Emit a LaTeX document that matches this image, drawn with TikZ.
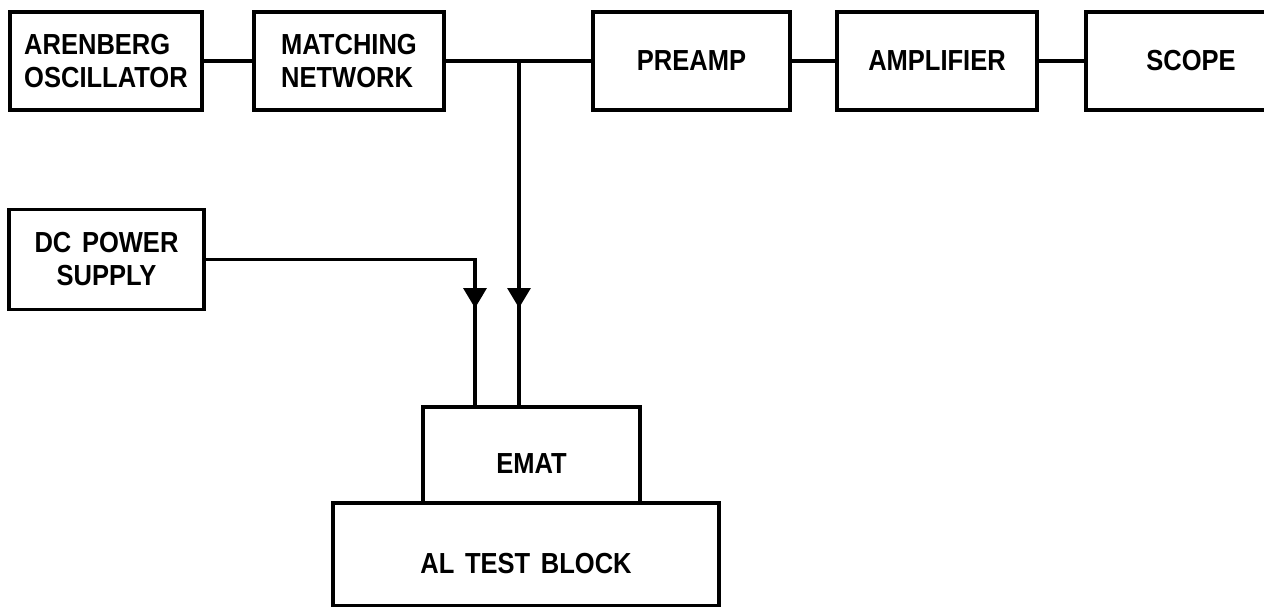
\documentclass[tikz,border=0pt]{standalone}
\usepackage{fontspec}
\newfontfamily\lbl{Liberation Sans Bold}[FakeStretch=0.88,WordSpace=1.5]
\usetikzlibrary{arrows.meta,decorations.markings}
\begin{document}
\begin{tikzpicture}[x=1pt,y=-1pt,
  box/.style={draw,line width=3.2pt,rectangle,inner sep=0pt,
    font=\lbl\fontsize{29}{33}\selectfont,align=left},
  low/.style={text height=37pt,text depth=0pt},
  conn/.style={line width=3.2pt},
  tipat/.style={postaction={decorate},decoration={markings,
    mark=at position #1 with {\arrow{Triangle[width=23pt,length=20pt]}}}}]
\useasboundingbox (0,0) rectangle (1264,607);
\fill[white] (0,0) rectangle (1264,607);
\node[box,minimum width=192pt,minimum height=98pt] (osc) at (106,61) {ARENBERG\\OSCILLATOR};
\node[box,minimum width=190pt,minimum height=98pt] (match) at (349,61) {MATCHING\\NETWORK};
\node[box,minimum width=197pt,minimum height=98pt] (pre) at (691.5,61) {PREAMP};
\node[box,minimum width=200pt,minimum height=98pt] (amp) at (937,61) {AMPLIFIER};
\node[box,minimum width=210pt,minimum height=98pt] (scope) at (1191,61) {SCOPE};
\node[box,minimum width=195pt,minimum height=100pt,align=center] (dc) at (106.5,259.5) {DC POWER\\SUPPLY};
\node[box,low,minimum width=217pt,minimum height=96pt] (emat) at (531.5,455) {EMAT};
\node[box,low,minimum width=386pt,minimum height=103pt] (al) at (526,554.5) {AL TEST BLOCK};
\coordinate (j) at (519,61);
\coordinate (eR) at (519,407);
\coordinate (eL) at (475,407);
\draw[conn] (osc.east) -- (match.west);
\draw[conn] (match.east) -- (pre.west);
\draw[conn] (pre.east) -- (amp.west);
\draw[conn] (amp.east) -- (scope.west);
\draw[conn,tipat=247pt] (j) -- (eR);
\draw[conn,tipat=318pt] (dc.east) -| (eL);
\end{tikzpicture}
\end{document}
